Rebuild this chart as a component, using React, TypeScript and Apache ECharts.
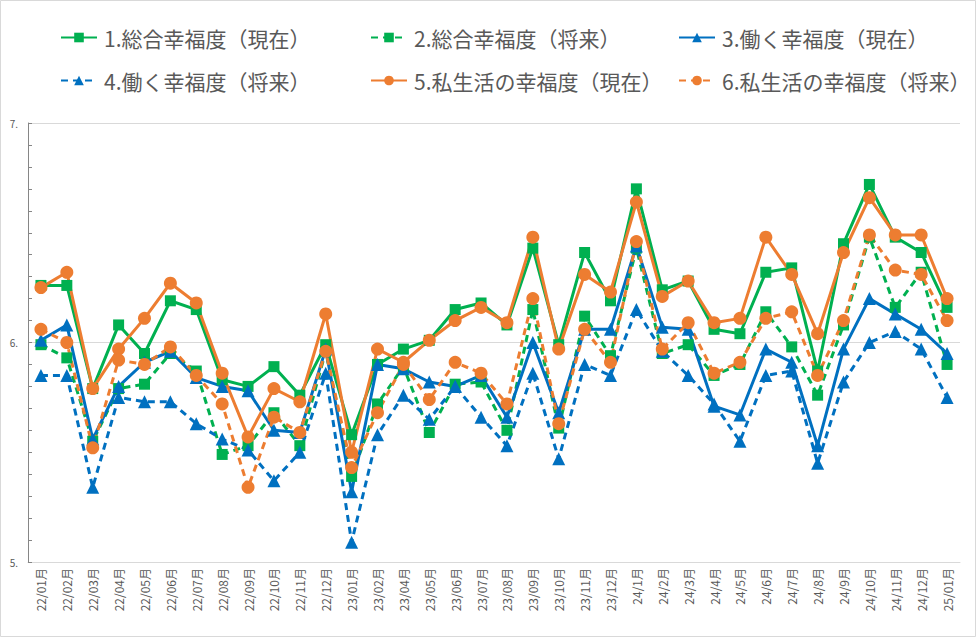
import React, { useEffect, useRef } from "react";
import * as echarts from "echarts";

const categories = [
  "22/01月", "22/02月", "22/03月", "22/04月", "22/05月", "22/06月", "22/07月", "22/08月", "22/09月", "22/10月", "22/11月", "22/12月",
  "23/01月", "23/02月", "23/04月", "23/05月", "23/06月", "23/07月", "23/08月", "23/09月", "23/10月", "23/11月", "23/12月",
  "24/1月", "24/2月", "24/3月", "24/4月", "24/5月", "24/6月", "24/7月", "24/8月", "24/9月", "24/10月", "24/11月", "24/12月",
  "25/01月",
];

const seriesNames = [
  "1.総合幸福度（現在）",
  "2.総合幸福度（将来）",
  "3.働く幸福度（現在）",
  "4.働く幸福度（将来）",
  "5.私生活の幸福度（現在）",
  "6.私生活の幸福度（将来）",
];

const totalNow = [
  6.26, 6.26, 5.79, 6.08, 5.95, 6.19, 6.15, 5.83, 5.80, 5.89, 5.76, 5.99,
  5.58, 5.90, 5.97, 6.01, 6.15, 6.18, 6.08, 6.43, 5.99, 6.41, 6.19,
  6.70, 6.24, 6.28, 6.06, 6.04, 6.32, 6.34, 5.87, 6.45, 6.72, 6.48, 6.41,
  6.16,
];
const totalFuture = [
  5.99, 5.93, 5.55, 5.79, 5.81, 5.95, 5.87, 5.49, 5.53, 5.68, 5.53, 5.96,
  5.39, 5.72, 5.89, 5.59, 5.81, 5.82, 5.60, 6.15, 5.61, 6.12, 5.94,
  6.43, 5.95, 5.99, 5.85, 5.90, 6.14, 5.98, 5.76, 6.08, 6.48, 6.16, 6.32,
  5.90,
];
const workNow = [
  6.01, 6.08, 5.56, 5.80, 5.91, 5.96, 5.84, 5.80, 5.78, 5.60, 5.59, 5.97,
  5.32, 5.90, 5.88, 5.82, 5.80, 5.85, 5.66, 6.00, 5.68, 6.06, 6.06,
  6.44, 6.07, 6.06, 5.71, 5.67, 5.97, 5.91, 5.53, 5.97, 6.20, 6.13, 6.06,
  5.95,
];
const workFuture = [
  5.85, 5.85, 5.34, 5.75, 5.73, 5.73, 5.63, 5.56, 5.51, 5.37, 5.50, 5.86,
  5.09, 5.58, 5.76, 5.65, 5.80, 5.66, 5.53, 5.86, 5.47, 5.90, 5.85,
  6.15, 5.96, 5.85, 5.72, 5.55, 5.85, 5.87, 5.45, 5.82, 6.00, 6.05, 5.97,
  5.75,
];
const privateNow = [
  6.25, 6.32, 5.79, 5.97, 6.11, 6.27, 6.18, 5.86, 5.57, 5.79, 5.73, 6.13,
  5.50, 5.97, 5.91, 6.01, 6.10, 6.16, 6.09, 6.48, 5.97, 6.31, 6.23,
  6.64, 6.21, 6.28, 6.09, 6.11, 6.48, 6.31, 6.04, 6.41, 6.66, 6.49, 6.49,
  6.20,
];
const privateFuture = [
  6.06, 6.00, 5.52, 5.92, 5.90, 5.98, 5.85, 5.72, 5.34, 5.66, 5.59, 5.96,
  5.43, 5.68, 5.90, 5.74, 5.91, 5.86, 5.72, 6.20, 5.63, 6.06, 5.91,
  6.46, 5.97, 6.09, 5.86, 5.91, 6.11, 6.14, 5.85, 6.10, 6.49, 6.33, 6.31,
  6.10,
];

const GREEN = "#00B050";
const BLUE = "#0070C0";
const ORANGE = "#ED7D31";
const DASH = [7, 5];
const FONT = "'Noto Sans CJK JP', 'Noto Sans', sans-serif";

const App = () => {
  const chartRef = useRef<HTMLDivElement>(null);

  useEffect(() => {
    document.body.style.margin = "0";
    const chartDom = chartRef.current;
    if (!chartDom) return;
    const myChart = echarts.init(chartDom, null, { renderer: "svg" });

    const makeSeries = (name: string, data: number[], color: string, symbol: string, dashed: boolean, size: number) => ({
      name,
      type: "line" as const,
      data,
      symbol,
      symbolSize: size,
      showSymbol: true,
      itemStyle: { color },
      lineStyle: { color, width: 3, type: dashed ? DASH : "solid" },
    });

    // legend laid out as a 3 x 2 grid, one legend per item
    const legendPos = [
      [60, 27], [370, 27], [678, 27],
      [60, 70], [370, 70], [678, 70],
    ];

    const option: any = {
      animation: false,
      backgroundColor: "#fff",
      textStyle: { fontFamily: FONT },
      legend: seriesNames.map((n, i) => ({
        data: [n],
        left: legendPos[i][0],
        top: legendPos[i][1],
        itemWidth: 36,
        itemHeight: 12,
        itemGap: 0,
        padding: 0,
        textStyle: { fontSize: 21, color: "#595959", fontFamily: FONT, padding: [0, 0, 0, 2] },
      })),
      grid: { left: 28, right: 16, top: 123, bottom: 75 },
      xAxis: {
        type: "category",
        data: categories,
        boundaryGap: true,
        axisLine: { lineStyle: { color: "#d9d9d9", width: 1 } },
        axisTick: { show: false },
        axisLabel: {
          rotate: 90,
          interval: 0,
          fontSize: 12,
          color: "#595959",
          margin: 6,
          fontFamily: FONT,
        },
      },
      yAxis: {
        type: "value",
        min: 5,
        max: 7,
        interval: 1,
        axisLine: { show: true, lineStyle: { color: "#868686", width: 1 } },
        axisTick: { show: true, inside: true, length: 4, lineStyle: { color: "#868686" } },
        minorTick: { show: true, splitNumber: 10, length: 4, lineStyle: { color: "#868686" } },
        axisLabel: {
          formatter: (v: number) => v + ".",
          fontSize: 10,
          color: "#595959",
          margin: 10,
          fontFamily: FONT,
        },
        splitLine: { lineStyle: { color: "#d9d9d9", width: 1 } },
      },
      graphic: [
        {
          type: "rect",
          shape: { x: 0.5, y: 0.5, width: 975, height: 636 },
          style: { fill: "none", stroke: "#d9d9d9", lineWidth: 1 },
          silent: true,
        },
      ],
      series: [
        makeSeries(seriesNames[0], totalNow, GREEN, "rect", false, 11),
        makeSeries(seriesNames[1], totalFuture, GREEN, "rect", true, 11),
        makeSeries(seriesNames[2], workNow, BLUE, "triangle", false, 13),
        makeSeries(seriesNames[3], workFuture, BLUE, "triangle", true, 13),
        makeSeries(seriesNames[4], privateNow, ORANGE, "circle", false, 13),
        makeSeries(seriesNames[5], privateFuture, ORANGE, "circle", true, 13),
      ],
    };

    myChart.setOption(option);

    const onResize = () => myChart.resize();
    window.addEventListener("resize", onResize, false);

    return () => {
      window.removeEventListener("resize", onResize, false);
      myChart.dispose();
    };
  }, []);

  return <div ref={chartRef} style={{ width: 976, height: 637 }}></div>;
};

export default App;
